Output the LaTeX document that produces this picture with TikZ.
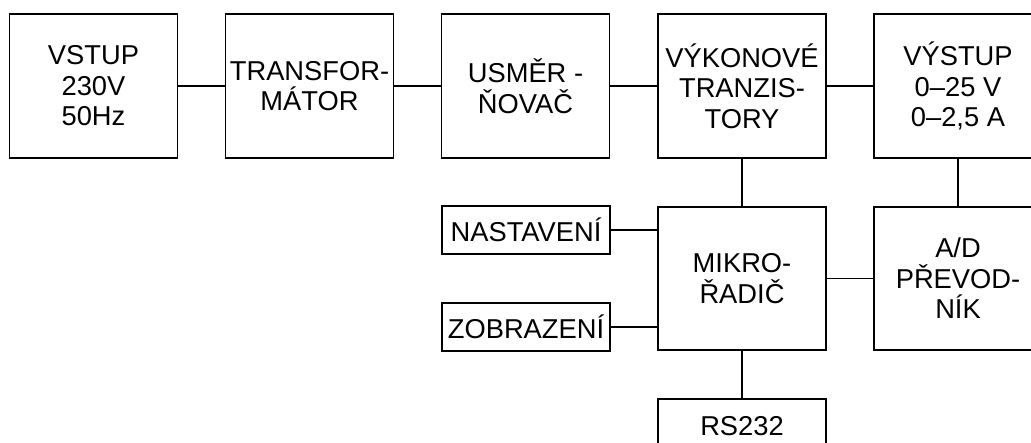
\documentclass[tikz,border=0pt]{standalone}
\usepackage{fontspec}
\setmainfont{Liberation Sans}
\begin{document}
\begin{tikzpicture}[x=1pt,y=-1pt,
  blk/.style={draw=black, line width=1.5pt, fill=white, inner sep=0pt, align=center,
    font=\fontsize{27.3}{30.5}\selectfont},
  big/.style={blk, minimum width=168pt, minimum height=144pt},
  small/.style={blk, minimum width=168pt, minimum height=48pt},
  wire/.style={draw=black, line width=1.5pt}]
\useasboundingbox (0,0) rectangle (1031,442);
\fill[white] (0,0) rectangle (1031,442);
\clip (0,0) rectangle (1031,442);
\node[big] (vstup) at (93.5,86) {VSTUP\\230V\\50Hz};
\node[big] (trafo) at (309.5,86) {TRANSFOR-\\MÁTOR};
\node[big] (usm) at (525.5,86) {USMĚR -\\ŇOVAČ};
\node[big] (vyk) at (742,86) {VÝKONOVÉ\\TRANZIS-\\TORY};
\node[big] (vys) at (958,86) {VÝSTUP\\0–25 V\\0–2,5 A};
\node[big, minimum height=143pt] (mik) at (742,278.5) {MIKRO-\\ŘADIČ};
\node[big, minimum height=143pt] (ad) at (958,278.5) {A/D\\PŘEVOD-\\NÍK};
\node[small] (nast) at (526,230) {NASTAVENÍ};
\node[small] (zobr) at (526,327) {ZOBRAZENÍ};
\node[blk, minimum width=168pt, minimum height=54pt] (rs) at (742,426) {RS232};
\draw[wire] (vstup.east) -- (trafo.west);
\draw[wire] (trafo.east) -- (usm.west);
\draw[wire] (usm.east) -- (vyk.west);
\draw[wire] (vyk.east) -- (vys.west |- vyk.east);
\draw[wire] (vyk.south) -- (mik.north);
\draw[wire] (vys.south) -- (ad.north);
\draw[wire] (nast.east) -- (nast.east -| mik.west);
\draw[wire] (zobr.east) -- (zobr.east -| mik.west);
\draw[wire] (mik.east) -- (ad.west);
\draw[wire] (mik.south) -- (rs.north);
\end{tikzpicture}
\end{document}
